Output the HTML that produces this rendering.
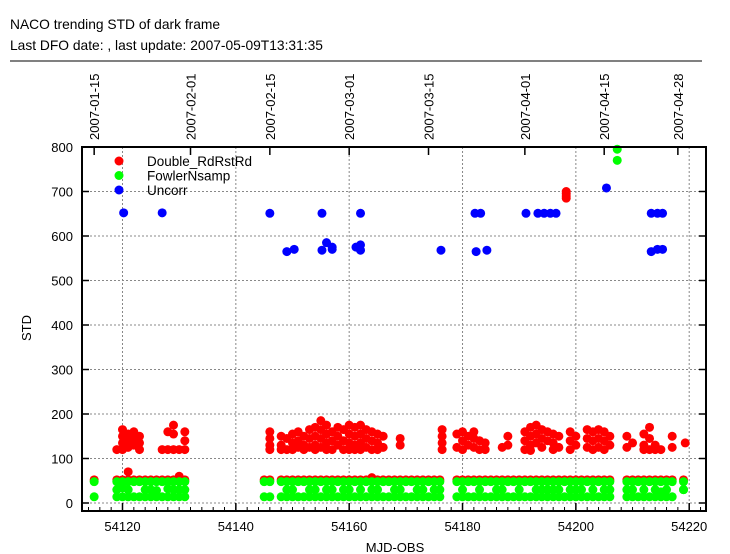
<!DOCTYPE html>
<html><head><meta charset="utf-8">
<style>
html,body{margin:0;padding:0;background:#fff;}
svg{display:block;font-family:"Liberation Sans",sans-serif;}
</style></head>
<body>
<svg id="chart" width="730" height="554" xmlns="http://www.w3.org/2000/svg">
<text x="10" y="29" font-size="13.8">NACO trending STD of dark frame</text>
<text x="10" y="50" font-size="13.8">Last DFO date: , last update: 2007-05-09T13:31:35</text>
<line x1="10" y1="61" x2="702" y2="61" stroke="#000" stroke-width="1"/>
<g id="grid"></g>
<g id="marks"></g>
<g id="axes"></g>
<text x="395" y="552" font-size="13" text-anchor="middle">MJD-OBS</text>
<text x="0" y="0" font-size="13" text-anchor="middle" transform="translate(31,328) rotate(-90)">STD</text>
<g id="legend"></g>
</svg>
<script>
const xTicks=[54120,54140,54160,54180,54200,54220];
const yTicks=[0,100,200,300,400,500,600,700,800];
const dateLabels=["2007-01-15","2007-02-01","2007-02-15","2007-03-01","2007-03-15","2007-04-01","2007-04-15","2007-04-28"];
const dateMjd=[54115,54132,54146,54160,54174,54191,54205,54218];

const greenDays=[54115,
54119,54120,54121,54122,54123,54124,54125,54126,54127,54128,54129,54130,54131,
54145,54146,
54148,54149,54150,54151,54152,54153,54154,54155,54156,54157,54158,54159,54160,54161,54162,54163,54164,54165,54166,54167,54168,54169,54170,54171,54172,54173,54174,54175,54176,
54179,54180,54181,54182,54183,54184,54185,54186,54187,54188,54189,54190,54191,54192,54193,54194,54195,54196,54197,54198,54199,54200,54201,54202,54203,54204,54205,54206,
54209,54210,54211,54212,54213,54214,54215,54216,54217,54219];
const greenTop=[48,
48,48,48,48,48,48,48,48,48,48,48,48,48,
48,48,
48,48,48,48,48,48,48,48,48,48,48,48,48,48,48,48,48,48,48,48,48,48,48,48,48,48,48,48,48,
48,48,48,48,48,48,48,48,48,48,48,48,48,48,48,48,48,48,48,48,48,48,48,48,48,48,48,48,
48,48,48,48,48,48,48,48,48,48];
const greenMid=[0,
30,34,30,0,0,30,30,28,0,32,30,30,30,
0,0,
0,30,30,0,0,30,30,0,30,30,0,30,30,0,30,0,30,30,0,0,30,30,0,0,30,30,0,30,30,
0,30,0,0,30,0,0,30,30,0,0,30,0,0,30,30,30,30,30,0,30,30,30,0,30,0,30,30,
30,30,0,30,0,30,25,30,0,30];
const greenBot=[14,
14,14,14,14,14,14,14,14,14,14,14,14,14,
14,14,
14,14,14,14,14,14,14,14,14,14,14,14,14,14,14,14,14,14,14,14,14,14,14,14,14,14,14,14,14,
14,14,14,14,14,14,14,14,14,14,14,14,14,14,14,14,14,14,14,14,14,14,14,14,14,14,14,14,
14,14,14,14,14,14,14,14,14,30];
const greenHighX=[54207.3,54207.3];
const greenHighY=[795,770];

const redLowX=[54121,54130,54164];
const redLowY=[70,60,57];
const redX=[54119,54120,54120,54120,54120,54121,54121,54121,54122,54122,54122,54123,54123,54123,
54127,54128,54128,54129,54129,54129,54130,54131,54131,54131,
54146,54146,54146,54146,54148,54148,54148,54149,54149,54150,54150,54150,54151,54151,54151,54152,54152,54152,
54153,54153,54153,54154,54154,54154,54154,54155,54155,54155,54155,54156,54156,54156,54156,54157,54157,54157,
54158,54158,54158,54159,54159,54159,54160,54160,54160,54160,54161,54161,54161,54161,54162,54162,54162,54162,
54163,54163,54163,54164,54164,54164,54165,54165,54165,54166,54166,54169,54169,
54176.4,54176.4,54176.4,54176.4,54179,54179,54180,54180,54180,54181,54181,54182,54182,54182,54183,54183,54184,54184,
54187,54188,54188,54191,54191,54191,54192,54192,54192,54192,54193,54193,54193,54194,54194,54194,54195,54195,
54196,54196,54196,54197,54197,54198.3,54198.3,54198.3,54198.3,54199,54199,54199,54200,54200,
54202,54202,54202,54203,54203,54203,54204,54204,54204,54205,54205,54205,54206,54206,
54209,54209,54210,54212,54212,54212,54213,54213,54213,54214,54214,54215,54217,54217,54219.3];
const redY=[120,165,150,135,120,155,140,125,160,145,130,150,135,120,
120,160,120,175,155,120,120,160,140,120,
160,145,130,120,150,130,120,145,120,155,135,120,160,140,125,150,130,120,
165,145,125,170,150,130,120,185,165,145,125,175,155,135,120,160,140,120,
170,150,130,165,140,120,175,155,135,120,170,150,130,120,175,155,135,120,
165,145,125,160,140,120,155,135,120,150,125,145,130,
165,150,135,120,155,125,160,140,120,150,130,160,145,125,140,120,135,120,
125,150,130,160,140,120,170,150,130,118,175,155,135,165,145,125,160,140,
155,135,120,150,125,700,695,690,685,160,140,120,150,130,
165,145,125,160,140,120,165,145,125,160,140,120,150,130,
150,125,135,155,130,120,170,145,120,130,120,120,150,125,135];
const blueX=[54120.2,54127,54146,54149,54150.3,54155.2,54155.2,54156,54157,54157,54161.2,54162,54162,54162,54176.2,
54182.2,54183.2,54182.4,54184.3,54191.2,54193.3,54194.4,54195.5,54196.5,54205.4,54213.3,54213.3,54214.4,54214.4,54215.3,54215.3];
const blueY=[652,652,651,565,570,651,568,585,575,570,575,580,568,651,568,
651,651,565,568,651,651,651,651,651,708,651,565,651,570,651,570];

const X0=54120,PX0=122.5,PPD=5.667;
function sx(m){return PX0+(m-X0)*PPD;}
function sy(v){return 503-v*0.4450;}
const L=82,R=706,T=147,B=511;
const NS="http://www.w3.org/2000/svg";
function mk(tag,attrs,parent){const e=document.createElementNS(NS,tag);for(const k in attrs)e.setAttribute(k,attrs[k]);parent.appendChild(e);return e;}
const grid=document.getElementById('grid'),marks=document.getElementById('marks'),axes=document.getElementById('axes'),legend=document.getElementById('legend');

yTicks.forEach(v=>{
  if(v<800){const g=mk('line',{x1:L,x2:R,y1:sy(v),y2:sy(v),stroke:'#888','stroke-dasharray':'2,2','stroke-width':1},grid);
  
  }
  const t=mk('text',{x:73,y:sy(v)+5,'font-size':13,'text-anchor':'end'},axes);t.textContent=v;
  
  
  mk('line',{x1:L,x2:L+7,y1:sy(v),y2:sy(v),stroke:'#000','stroke-width':1.5},axes);
  mk('line',{x1:R-7,x2:R,y1:sy(v),y2:sy(v),stroke:'#000','stroke-width':1.5},axes);
});
xTicks.forEach(m=>{
  const g=mk('line',{x1:sx(m),x2:sx(m),y1:T,y2:B,stroke:'#888','stroke-dasharray':'2,2','stroke-width':1},grid);
  
  
  mk('line',{x1:sx(m),x2:sx(m),y1:B,y2:B-8,stroke:'#000','stroke-width':1.5},axes);
  const t=mk('text',{x:sx(m),y:531,'font-size':13,'text-anchor':'middle'},axes);t.textContent=m;
  
  
});
for(let m=54114;m<=54222;m+=2){mk('line',{x1:sx(m),x2:sx(m),y1:B,y2:B-4,stroke:'#000','stroke-width':1},axes);}
dateLabels.forEach((d,i)=>{
  const x=sx(dateMjd[i]);
  mk('line',{x1:x,x2:x,y1:T,y2:T+8,stroke:'#000','stroke-width':1.5},axes);
  const t=mk('text',{x:0,y:0,'font-size':13,transform:`translate(${x+5},${140}) rotate(-90)`},axes);t.textContent=d;
  
  
});
const fr=mk('rect',{x:L,y:T,width:R-L,height:B-T,fill:'none',stroke:'#000','stroke-width':2},axes);



function dot(x,y,c,name){const d=mk('circle',{cx:sx(x),cy:sy(y),r:4.5,fill:c},marks);
  
  }
greenDays.forEach(d=>dot(d,52,'#ff0000','point-double-rdrstrd'));
redLowX.forEach((x,i)=>dot(x,redLowY[i],'#ff0000','point-double-rdrstrd'));
redX.forEach((x,i)=>dot(x,redY[i],'#ff0000','point-double-rdrstrd'));
greenDays.forEach((d,i)=>{
  dot(d,greenTop[i],'#00ff00','point-fowlernsamp');
  if(greenMid[i]>0)dot(d,greenMid[i],'#00ff00','point-fowlernsamp');
  dot(d,greenBot[i],'#00ff00','point-fowlernsamp');
});
greenHighX.forEach((x,i)=>dot(x,greenHighY[i],'#00ff00','point-fowlernsamp'));
blueX.forEach((x,i)=>dot(x,blueY[i],'#0000ff','point-uncorr'));

const legItems=[["Double_RdRstRd","#ff0000"],["FowlerNsamp","#00ff00"],["Uncorr","#0000ff"]];
legItems.forEach((it,i)=>{
  const y=161+i*14.5;
  const c=mk('circle',{cx:119,cy:y,r:4.5,fill:it[1]},legend);
  
  
  const t=mk('text',{x:147,y:y+5,'font-size':13.5},legend);t.textContent=it[0];
  
  
});
</script>
</body></html>
